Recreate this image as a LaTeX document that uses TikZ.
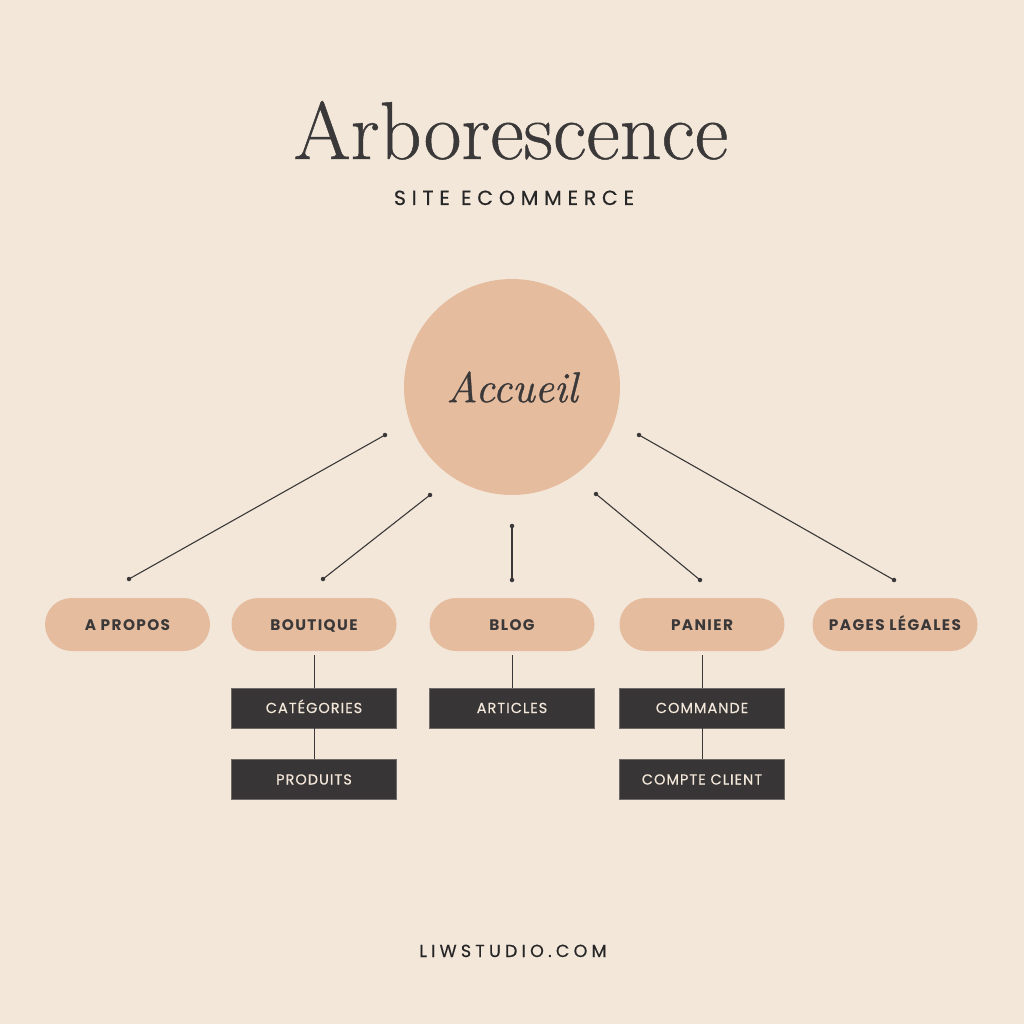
\documentclass[tikz,border=0pt]{standalone}
\usepackage{fontspec}
\setmainfont{Latin Modern Roman}
\newfontfamily\titlefont[FakeBold=0.6]{Latin Modern Roman}
\newfontfamily\accfont[FakeBold=0.8]{Latin Modern Roman}
\newfontfamily\subfont[LetterSpace=24, FakeBold=0.4]{Poppins}
\newfontfamily\titlesubfont[LetterSpace=28, FakeBold=0.4]{Poppins}
\newfontfamily\pillfont[LetterSpace=9]{Poppins}
\newfontfamily\boxfont[LetterSpace=7, FakeBold=0.5]{Poppins}
\definecolor{bg}{HTML}{F3E7DA}
\definecolor{peach}{HTML}{E6BC9F}
\definecolor{dark}{HTML}{373536}
\definecolor{ink}{HTML}{3A3838}
\definecolor{cream}{HTML}{F3E7DA}
\tikzset{
  pill/.style={fill=peach, rounded corners=26.5pt, minimum width=165pt, minimum height=53pt, inner sep=0pt, text=ink, text height=11pt, text depth=0pt, font=\pillfont\bfseries\fontsize{15.3}{17}\selectfont},
  darkbox/.style={fill=dark, draw=dark!70!bg, line width=0.8pt, minimum width=165pt, minimum height=40pt, inner sep=0pt, text=cream, text height=10pt, text depth=0pt, font=\boxfont\fontsize{14.5}{16}\selectfont},
  link/.style={draw=ink, line width=1.1pt},
  vlink/.style={draw=ink, line width=0.9pt},
  dot/.style={circle, fill=ink, inner sep=0pt, minimum size=4.5pt}
}
\begin{document}
\begin{tikzpicture}[x=1pt,y=1pt]
\fill[bg] (0,0) rectangle (1024,-1024);
\useasboundingbox (0,0) rectangle (1024,-1024);
% title
\node[anchor=base, text=ink, font=\titlefont\fontsize{82}{90}\selectfont, inner sep=0pt] (title) at (511,-159) {Arborescence};
\node[anchor=base, text=black!85, font=\titlesubfont\fontsize{20.5}{24}\selectfont, inner sep=0pt] (sub) at (514,-205) {SITE ECOMMERCE};
% central circle
\node[circle, fill=peach, minimum size=216pt, inner sep=0pt, text=ink, font=\accfont\itshape\fontsize{43}{48}\selectfont] (home) at (512,-387) {Accueil};
% pills
\node[pill] (apropos) at (127.5,-624.5) {A PROPOS};
\node[pill] (boutique) at (314,-624.5) {BOUTIQUE};
\node[pill] (blog) at (512,-624.5) {BLOG};
\node[pill] (panier) at (702,-624.5) {PANIER};
\node[pill] (legal) at (895,-624.5) {PAGES LÉGALES};
% dark boxes
\node[darkbox] (cat) at (314,-708) {CATÉGORIES};
\node[darkbox] (prod) at (314,-779.5) {PRODUITS};
\node[darkbox] (art) at (512,-708) {ARTICLES};
\node[darkbox] (cmd) at (702,-708) {COMMANDE};
\node[darkbox] (compte) at (702,-779.5) {COMPTE CLIENT};
% connector endpoints
\node[dot] (a1) at (385,-435) {};
\node[dot] (a2) at (129,-579) {};
\node[dot] (b1) at (430,-495) {};
\node[dot] (b2) at (323,-579) {};
\node[dot] (c1) at (512,-526) {};
\node[dot] (c2) at (512,-580) {};
\node[dot] (d1) at (596,-494) {};
\node[dot] (d2) at (700,-580) {};
\node[dot] (e1) at (639,-435) {};
\node[dot] (e2) at (894,-580) {};
\draw[link] (a1.center) -- (a2.center);
\draw[link] (b1.center) -- (b2.center);
\draw[link] (c1.center) -- (c2.center);
\draw[link] (d1.center) -- (d2.center);
\draw[link] (e1.center) -- (e2.center);
% vertical connectors
\draw[vlink] ([yshift=-4pt]boutique.south) -- (cat.north);
\draw[vlink] (cat.south) -- (prod.north);
\draw[vlink] ([yshift=-4pt]blog.south) -- (art.north);
\draw[vlink] ([yshift=-4pt]panier.south) -- (cmd.north);
\draw[vlink] (cmd.south) -- (compte.north);
% footer
\node[anchor=base, text=black!85, font=\subfont\fontsize{17.5}{20}\selectfont, inner sep=0pt] (foot) at (513,-957) {LIWSTUDIO.COM};
\end{tikzpicture}
\end{document}
